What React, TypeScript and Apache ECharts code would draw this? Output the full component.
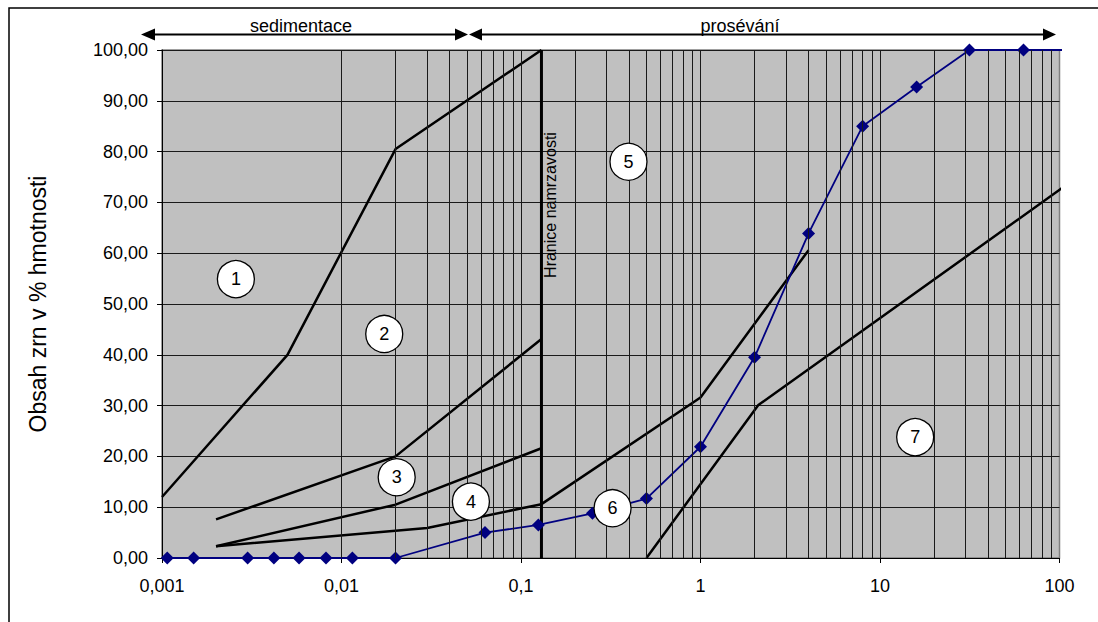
import React, { useEffect, useRef } from "react";
import * as echarts from "echarts";

// ---- data ----
const decades = [0.001, 0.01, 0.1, 1, 10];
const minorMultipliers = [1, 2, 3, 4, 5, 6, 7, 8, 9];
const yTickValues = [0, 10, 20, 30, 40, 50, 60, 70, 80, 90, 100];

const lineAX = [0.001, 0.005, 0.02, 0.13];
const lineAY = [12, 40, 80.5, 100];
const lineBX = [0.002, 0.02, 0.13];
const lineBY = [7.6, 20, 43.1];
const lineCX = [0.002, 0.02, 0.13];
const lineCY = [2.3, 10.5, 21.6];
const lineDX = [0.002, 0.03, 0.13, 1, 4];
const lineDY = [2.3, 5.9, 10.6, 31.6, 60.6];
const lineEX = [0.5, 2.1, 105];
const lineEY = [0, 30.1, 73];
const hraniceX = [0.13, 0.13];
const hraniceY = [0, 100];

const sampleX = [0.00107, 0.0015, 0.003, 0.0042, 0.0058, 0.0082, 0.0115, 0.02, 0.063, 0.125, 0.25, 0.5, 1, 2, 4, 8, 16, 31.5, 63, 108];
const sampleY = [0, 0, 0, 0, 0, 0, 0, 0, 5, 6.5, 8.8, 11.7, 21.9, 39.5, 63.9, 85, 92.7, 100, 100, 100];

const zoneNames = ["1", "2", "3", "4", "5", "6", "7"];
const zoneX = [0.00258, 0.0173, 0.0203, 0.0526, 0.397, 0.3236, 15.7];
const zoneY = [54.9, 44.1, 15.9, 11.1, 78.0, 9.8, 23.8];

const FONT = "'Liberation Sans', Arial, sans-serif";

const pairs = (xs: number[], ys: number[]) => xs.map((x, i) => [x, ys[i]]);

export default function App() {
  const ref = useRef<HTMLDivElement>(null);

  useEffect(() => {
    document.body.style.margin = "0";
    if (!ref.current) return;
    const chart = echarts.init(ref.current, undefined, { renderer: "svg" });

    const gridXs = decades
      .flatMap((d) => minorMultipliers.map((m) => Number((d * m).toPrecision(3))))
      .filter((v) => v > 0.001 && v < 100);

    const blackLine = (name: string, xs: number[], ys: number[], width = 2.5) => ({
      name,
      type: "line",
      data: pairs(xs, ys),
      symbol: "none",
      clip: false,
      lineStyle: { color: "#000", width },
      z: 3,
      silent: true,
    });

    const arrowY = 34.5;
    const tri = (tipX: number, baseX: number) => ({
      type: "polygon",
      shape: { points: [[tipX, arrowY], [baseX, arrowY - 6], [baseX, arrowY + 6]] },
      style: { fill: "#000" },
    });

    const option: any = {
      animation: false,
      textStyle: { fontFamily: FONT },
      grid: {
        left: 162,
        right: 38.5,
        top: 50,
        bottom: 64,
        show: true,
        backgroundColor: "#C0C0C0",
        borderColor: "#808080",
        borderWidth: 1.5,
      },
      xAxis: {
        type: "log",
        logBase: 10,
        min: 0.001,
        max: 100,
        axisLine: { show: true, lineStyle: { color: "#000", width: 1 } },
        axisTick: { show: true, length: 5, lineStyle: { color: "#000" } },
        splitLine: { show: false },
        minorTick: { show: false },
        axisLabel: {
          fontSize: 18,
          color: "#000",
          fontFamily: FONT,
          margin: 19,
          formatter: (v: number) => String(Number(v.toPrecision(6))).replace(".", ","),
        },
      },
      yAxis: {
        type: "value",
        min: yTickValues[0],
        max: yTickValues[yTickValues.length - 1],
        interval: 10,
        axisLine: { show: true, lineStyle: { color: "#000", width: 1 } },
        axisTick: { show: true, length: 5, lineStyle: { color: "#000" } },
        splitLine: { show: true, lineStyle: { color: "#1a1a1a", width: 1 } },
        axisLabel: {
          fontSize: 18,
          color: "#000",
          fontFamily: FONT,
          margin: 14,
          formatter: (v: number) => v.toFixed(2).replace(".", ","),
        },
      },
      series: [
        {
          name: "grid",
          type: "line",
          data: [],
          silent: true,
          z: 1,
          markLine: {
            silent: true,
            symbol: ["none", "none"],
            label: { show: false },
            emphasis: { disabled: true },
            lineStyle: { color: "#1a1a1a", width: 1, type: "solid" },
            data: gridXs.map((v) => ({ xAxis: v })),
          },
        },
        blackLine("A", lineAX, lineAY),
        blackLine("B", lineBX, lineBY),
        blackLine("C", lineCX, lineCY),
        blackLine("D", lineDX, lineDY),
        blackLine("E", lineEX, lineEY),
        blackLine("Hranice", hraniceX, hraniceY, 3),
        {
          name: "vzorek",
          type: "line",
          clip: false,
          data: sampleX.map((x, i) =>
            x > 100 ? { value: [x, sampleY[i]], symbol: "none" } : { value: [x, sampleY[i]] }
          ),
          symbol: "diamond",
          symbolSize: 13,
          itemStyle: { color: "#000080" },
          lineStyle: { color: "#000080", width: 1.8 },
          z: 4,
          silent: true,
        },
        {
          name: "zones",
          type: "scatter",
          data: zoneX.map((x, i) => [x, zoneY[i], zoneNames[i]]),
          symbol: "circle",
          symbolSize: 37,
          itemStyle: { color: "#fff", borderColor: "#000", borderWidth: 1.3, opacity: 1 },
          label: {
            show: true,
            position: "inside",
            fontSize: 18,
            color: "#000",
            fontFamily: FONT,
            formatter: (p: any) => p.value[2],
          },
          z: 5,
          silent: true,
        },
      ],
      graphic: [
        {
          type: "rect",
          shape: { x: 9, y: 8, width: 1300, height: 900 },
          style: { fill: "none", stroke: "#000", lineWidth: 1.5 },
          silent: true,
        },
        {
          type: "line",
          shape: { x1: 150, y1: arrowY, x2: 460, y2: arrowY },
          style: { stroke: "#000", lineWidth: 2 },
        },
        tri(141, 155),
        tri(468, 455),
        {
          type: "line",
          shape: { x1: 476, y1: arrowY, x2: 1046, y2: arrowY },
          style: { stroke: "#000", lineWidth: 2 },
        },
        tri(469, 482),
        tri(1056, 1043),
        {
          type: "text",
          x: 301,
          y: 26,
          style: { text: "sedimentace", fontSize: 18, fontFamily: FONT, fill: "#000", align: "center", verticalAlign: "middle" },
        },
        {
          type: "text",
          x: 740,
          y: 26,
          style: { text: "prosévání", fontSize: 18, fontFamily: FONT, fill: "#000", align: "center", verticalAlign: "middle" },
        },
        {
          type: "text",
          x: 38,
          y: 304,
          rotation: Math.PI / 2,
          style: { text: "Obsah zrn v % hmotnosti", fontSize: 23, fontFamily: FONT, fill: "#000", align: "center", verticalAlign: "middle" },
        },
        {
          type: "text",
          x: 550,
          y: 205,
          rotation: Math.PI / 2,
          z: 10,
          style: { text: "Hranice namrzavosti", fontSize: 16, fontFamily: FONT, fill: "#000", align: "center", verticalAlign: "middle" },
        },
      ],
    };

    chart.setOption(option);
    return () => chart.dispose();
  }, []);

  return <div ref={ref} style={{ width: 1098, height: 622 }} />;
}
